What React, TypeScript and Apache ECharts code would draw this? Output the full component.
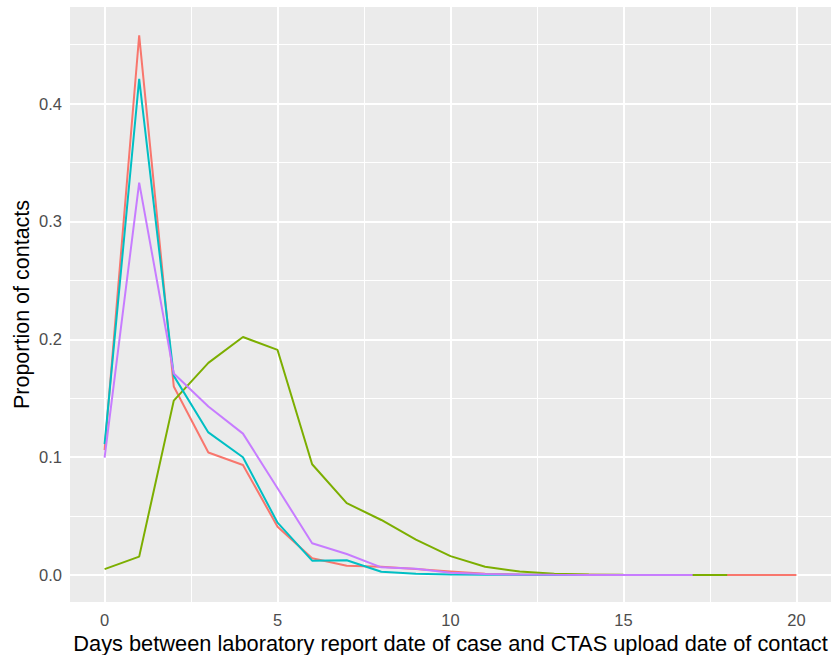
import React, { useEffect, useRef } from "react";
import * as echarts from "echarts";

const xMajor = [0, 5, 10, 15, 20];
const xMinor = [2.5, 7.5, 12.5, 17.5];
const yMajor = [0, 0.1, 0.2, 0.3, 0.4];
const yMinor = [0.05, 0.15, 0.25, 0.35, 0.45];

const redValues = [0.106, 0.458, 0.16, 0.104, 0.0934, 0.041, 0.0142, 0.0079, 0.007, 0.005, 0.003, 0.001, 0.0005, 0.0003, 0.0002, 0.0001, 0.0001, 0.0001, 0, 0, 0];
const greenValues = [0.005, 0.0156, 0.148, 0.18, 0.202, 0.191, 0.094, 0.061, 0.0467, 0.03, 0.016, 0.007, 0.003, 0.001, 0.0005, 0.0002, 0.0001, 0, 0];
const cyanValues = [0.111, 0.421, 0.169, 0.121, 0.0999, 0.0444, 0.0122, 0.0125, 0.0028, 0.001, 0.0005, 0.0003, 0.0002, 0.0001, 0];
const purpleValues = [0.0996, 0.333, 0.171, 0.143, 0.12, 0.0736, 0.0269, 0.0178, 0.0065, 0.0054, 0.002, 0.0008, 0.0004, 0.0002, 0.0001, 0, 0, 0];

const seriesDefs = [
  { name: "red", values: redValues, color: "#F8766D" },
  { name: "green", values: greenValues, color: "#7CAE00" },
  { name: "cyan", values: cyanValues, color: "#00BFC4" },
  { name: "purple", values: purpleValues, color: "#C77CFF" },
];

const FONT = "'Liberation Sans', Arial, sans-serif";

export default function App() {
  const ref = useRef<HTMLDivElement>(null);
  useEffect(() => {
    if (!ref.current) return;
    const chart = echarts.init(ref.current, null, { renderer: "svg" });
    const gridLines = (vals: number[], axis: "xAxis" | "yAxis", width: number) =>
      vals.map((v) => ({ [axis]: v, lineStyle: { color: "#FFFFFF", width, type: "solid" } }));
    chart.setOption({
      animation: false,
      backgroundColor: "#FFFFFF",
      grid: {
        left: 70,
        right: 0,
        top: 7,
        bottom: 53,
        show: true,
        backgroundColor: "#EBEBEB",
        borderWidth: 0,
        containLabel: false,
        outerBoundsMode: "none",
      },
      xAxis: {
        type: "value",
        min: -1,
        max: 21,
        name: "Days between laboratory report date of case and CTAS upload date of contact",
        nameLocation: "middle",
        nameGap: 30,
        nameMoveOverlap: false,
        nameTextStyle: { fontFamily: FONT, fontSize: 21.8, color: "#000000" },
        axisLine: { show: false },
        axisTick: { show: true, length: 4, lineStyle: { color: "#333333", width: 1.5 }, customValues: xMajor },
        axisLabel: { customValues: xMajor, fontFamily: FONT, fontSize: 16.5, color: "#4D4D4D", margin: 9 },
        splitLine: { show: false },
      },
      yAxis: {
        type: "value",
        min: -0.0229,
        max: 0.482,
        name: "Proportion of contacts",
        nameLocation: "middle",
        nameGap: 37,
        nameMoveOverlap: false,
        nameTextStyle: { fontFamily: FONT, fontSize: 21.5, color: "#000000" },
        axisLine: { show: false },
        axisTick: { show: true, length: 4, lineStyle: { color: "#333333", width: 1.5 }, customValues: yMajor },
        axisLabel: {
          customValues: yMajor,
          fontFamily: FONT,
          fontSize: 16.5,
          color: "#4D4D4D",
          margin: 8,
          formatter: (v: number) => v.toFixed(1),
        },
        splitLine: { show: false },
      },
      series: [
        {
          type: "line",
          name: "grid",
          z: 1,
          silent: true,
          data: [[0, 0]],
          symbol: "none",
          lineStyle: { opacity: 0 },
          markLine: {
            z: 1,
            silent: true,
            symbol: "none",
            label: { show: false },
            animation: false,
            data: [
              ...gridLines(xMinor, "xAxis", 1),
              ...gridLines(yMinor, "yAxis", 1),
              ...gridLines(xMajor, "xAxis", 2),
              ...gridLines(yMajor, "yAxis", 2),
            ],
          },
        },
        ...seriesDefs.map((s, i) => ({
          type: "line",
          name: s.name,
          z: 3 + i,
          data: s.values.map((v, x) => [x, v]),
          symbol: "none",
          lineStyle: { color: s.color, width: 2 },
          itemStyle: { color: s.color },
        })),
      ],
    });
    return () => chart.dispose();
  }, []);
  return (
    <div
      ref={ref}
      style={{ position: "fixed", left: 0, top: 0, width: 831, height: 655, background: "#FFFFFF" }}
    />
  );
}
